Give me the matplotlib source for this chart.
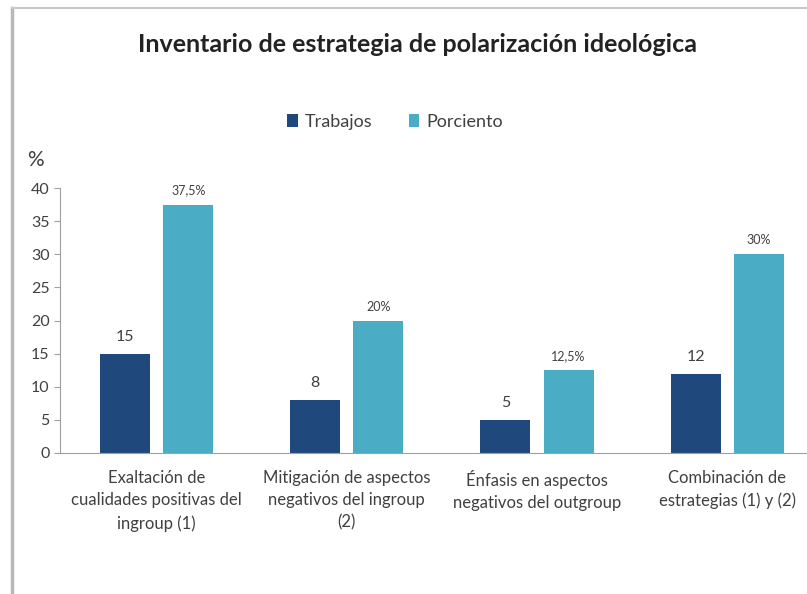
import numpy as np
import matplotlib.pyplot as plt
from matplotlib.lines import Line2D

plt.rcParams['font.family'] = ['Lato', 'DejaVu Sans']

categorias = ["Exaltación de\ncualidades positivas del\ningroup (1)",
              "Mitigación de aspectos\nnegativos del ingroup\n(2)",
              "Énfasis en aspectos\nnegativos del outgroup",
              "Combinación de\nestrategias (1) y (2)"]
trabajos = [15, 8, 5, 12]
porciento = [37.5, 20, 12.5, 30]
etiquetas_pct = ["37,5%", "20%", "12,5%", "30%"]

c_trab = '#1f497d'
c_pct = '#4bacc6'
gris = '#404040'

fig = plt.figure(figsize=(8.07, 5.94), dpi=100)
ax = fig.add_axes([60 / 807, 141 / 594, 1 - 60 / 807, 265 / 594])

x = np.arange(len(categorias))
w = 0.263
off = 0.166
b1 = ax.bar(x - off, trabajos, w, color=c_trab, label='Trabajos')
b2 = ax.bar(x + off, porciento, w, color=c_pct, label='Porciento')

for rect, v in zip(b1, trabajos):
    ax.text(rect.get_x() + rect.get_width() / 2, v + 1.5, str(v),
            ha='center', va='bottom', fontsize=11.5, color=gris)
for rect, v, t in zip(b2, porciento, etiquetas_pct):
    ax.text(rect.get_x() + rect.get_width() / 2, v + 1.2, t,
            ha='center', va='bottom', fontsize=9, color=gris)

ax.set_xlim(-0.508, 3.42)
ax.set_ylim(0, 40)
ax.set_yticks(range(0, 41, 5))
ax.tick_params(axis='y', labelsize=11.5, colors=gris, length=4, color='#a0a0a0')
ax.set_xticks(x)
ax.set_xticklabels(categorias, fontsize=12, color=gris, linespacing=1.5)
ax.tick_params(axis='x', length=0, pad=12)

for s in ['top', 'right']:
    ax.spines[s].set_visible(False)
ax.spines['left'].set_color('#a0a0a0')
ax.spines['bottom'].set_color('#a0a0a0')

fig.text(417 / 807, 1 - 45 / 594, "Inventario de estrategia de polarización ideológica",
         ha='center', va='center', fontsize=18, fontweight='bold', color='#222222')
fig.text(35 / 807, 1 - 160 / 594, "%", ha='center', va='center', fontsize=15, color=gris)

fig.legend(handles=[b1, b2], loc='center', bbox_to_anchor=(395 / 807, 1 - 122 / 594),
           ncol=2, frameon=False, fontsize=13, handlelength=0.6, handleheight=0.7,
           columnspacing=2.0, handletextpad=0.4, labelcolor=gris)

# marco gris del recorte original
fig.add_artist(Line2D([12 / 807, 12 / 807], [0, 1 - 8 / 594], color='#b8b8b8', lw=2.5))
fig.add_artist(Line2D([12 / 807, 1], [1 - 8 / 594, 1 - 8 / 594], color='#c8c8c8', lw=1.5))

fig.savefig('out.png', dpi=100)
